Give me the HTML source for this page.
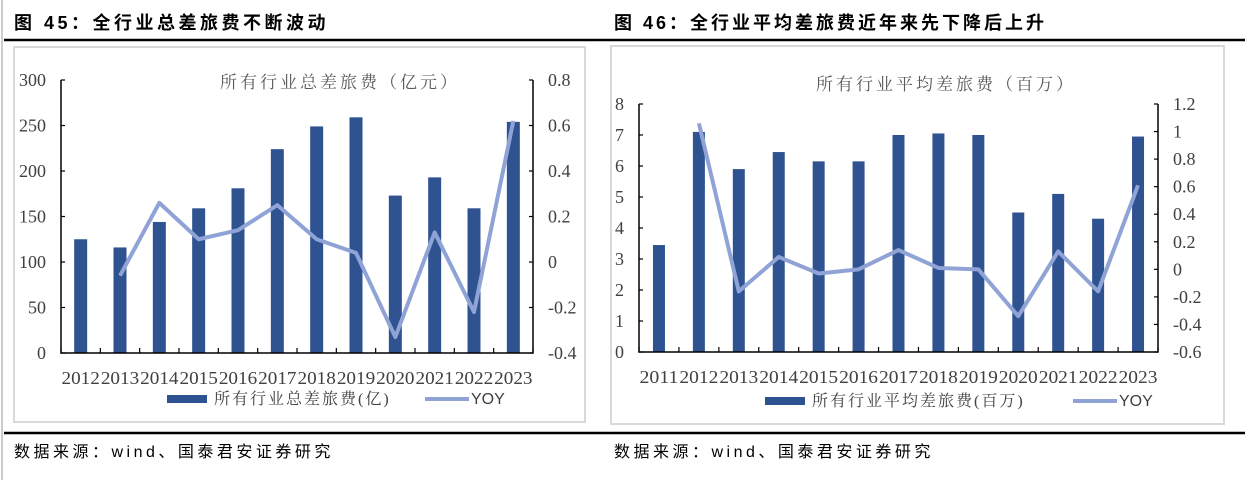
<!DOCTYPE html>
<html><head><meta charset="utf-8"><style>
html,body{margin:0;padding:0;background:#fff;}
svg{display:block;}
.ser{font-family:"Liberation Serif","Noto Serif CJK SC",serif;}
.cjk{font-family:"Liberation Sans","Noto Sans CJK SC",sans-serif;}
</style></head><body>
<svg id="root" width="1245" height="480" viewBox="0 0 1245 480" xmlns="http://www.w3.org/2000/svg">
  <rect x="0" y="0" width="1245" height="480" fill="#fff"/>
  <line x1="2" y1="0" x2="2" y2="480" stroke="#999" stroke-width="1"/>
  <text x="14" y="29" class="cjk" font-size="18" font-weight="bold" fill="#000" letter-spacing="3.5">图 45：全行业总差旅费不断波动</text>
  <text x="614" y="29" class="cjk" font-size="18" font-weight="bold" fill="#000" letter-spacing="3">图 46：全行业平均差旅费近年来先下降后上升</text>
  <line x1="4" y1="40" x2="1245" y2="40" stroke="#000" stroke-width="2.5"/>
  <line x1="4" y1="433" x2="1245" y2="433" stroke="#000" stroke-width="2.5"/>
  <text x="14" y="457" class="cjk" font-size="16" fill="#000" letter-spacing="3.5">数据来源：wind、国泰君安证券研究</text>
  <text x="614" y="457" class="cjk" font-size="16" fill="#000" letter-spacing="3.5">数据来源：wind、国泰君安证券研究</text>
  <rect x="14" y="47" width="571" height="375" fill="#fff" stroke="#d9d9d9" stroke-width="2"/>
  <rect x="611" y="46" width="613" height="378" fill="#fff" stroke="#d9d9d9" stroke-width="2"/>
  <g id="c1"></g>
  <g id="c2"></g>
</svg>
<script>
const cats1 = ['2012','2013','2014','2015','2016','2017','2018','2019','2020','2021','2022','2023'];
const bars1 = [125,116,144,159,181,224,249,259,173,193,159,254];
const yoy1 = [null,-0.06,0.26,0.10,0.14,0.25,0.10,0.04,-0.33,0.13,-0.22,0.62];
const leftTicks1 = [0,50,100,150,200,250,300];
const rightTicks1 = [-0.4,-0.2,0,0.2,0.4,0.6,0.8];

const cats2 = ['2011','2012','2013','2014','2015','2016','2017','2018','2019','2020','2021','2022','2023'];
const bars2 = [3.45,7.1,5.9,6.45,6.15,6.15,7.0,7.05,7.0,4.5,5.1,4.3,6.95];
const yoy2 = [null,1.06,-0.16,0.09,-0.03,0.0,0.14,0.01,0.0,-0.34,0.13,-0.16,0.61];
const leftTicks2 = [0,1,2,3,4,5,6,7,8];
const rightTicks2 = [-0.6,-0.4,-0.2,0,0.2,0.4,0.6,0.8,1,1.2];

const NS='http://www.w3.org/2000/svg';
function mk(tag, attrs, parent){const e=document.createElementNS(NS,tag);for(const k in attrs)e.setAttribute(k,attrs[k]);parent.appendChild(e);return e;}

function draw(g, o){
  const {cats,bars,yoy,lt,rt,x0,x1,y0,y1,title,titleX,titleY,legLabel,legX,yoyX,legY,barW}=o;
  const lmin=lt[0],lmax=lt[lt.length-1],rmin=rt[0],rmax=rt[rt.length-1];
  const n=cats.length, cw=(x1-x0)/n;
  const xc=i=>x0+cw*(i+0.5);
  const yl=v=>y0-(v-lmin)/(lmax-lmin)*(y0-y1);
  const yr=v=>y0-(v-rmin)/(rmax-rmin)*(y0-y1);
  const t=mk('text',{x:titleX,y:titleY,'text-anchor':'middle','font-size':17,fill:'#595959','class':'ser','letter-spacing':'3'},g);
  t.textContent=title;
  
  
  bars.forEach((v,i)=>{
    const r=mk('rect',{x:xc(i)-barW/2,y:yl(v),width:barW,height:y0-yl(v),fill:'#2F5391'},g);
    
    
  });
  const ax=mk('path',{d:`M${x0},${y1} V${y0} H${x1} V${y1}`,fill:'none',stroke:'#000','stroke-width':1.5},g);
  
  
  for(let i=0;i<=n;i++) mk('line',{x1:x0+cw*i,x2:x0+cw*i,y1:y0,y2:y0-5,stroke:'#000','stroke-width':1.2},g);
  lt.forEach(v=>{
    mk('line',{x1:x0,x2:x0+4,y1:yl(v),y2:yl(v),stroke:'#000','stroke-width':1.2},g);
    const tx=mk('text',{x:x0-15,y:yl(v)+6,'text-anchor':'end','font-size':18,fill:'#404040','class':'ser'},g);
    tx.textContent=v;
    
    
  });
  rt.forEach(v=>{
    mk('line',{x1:x1,x2:x1-4,y1:yr(v),y2:yr(v),stroke:'#000','stroke-width':1.2},g);
    const tx=mk('text',{x:x1+15,y:yr(v)+6,'font-size':18,fill:'#404040','class':'ser'},g);
    tx.textContent=String(v);
    
    
  });
  cats.forEach((c,i)=>{
    const tx=mk('text',{x:xc(i),y:y0+31,'text-anchor':'middle','font-size':18,fill:'#404040','class':'ser',textLength:cw-1,lengthAdjust:'spacingAndGlyphs'},g);
    tx.textContent=c;
    
    
  });
  let pts=[];
  yoy.forEach((v,i)=>{if(v!==null)pts.push(xc(i)+','+yr(v));});
  const pl=mk('polyline',{points:pts.join(' '),fill:'none',stroke:'#8FA3D6','stroke-width':4,'stroke-linejoin':'round'},g);
  
  
  const lb=mk('rect',{x:legX,y:legY-9,width:40,height:8,fill:'#2F5391'},g);
  
  
  const lt1=mk('text',{x:legX+47,y:legY,'font-size':16,fill:'#404040','class':'ser','letter-spacing':'2'},g);
  lt1.textContent=legLabel;
  
  
  const ll=mk('line',{x1:yoyX,x2:yoyX+44,y1:legY-5,y2:legY-5,stroke:'#8FA3D6','stroke-width':4},g);
  
  
  const lt2=mk('text',{x:yoyX+46,y:legY,'font-size':16,fill:'#404040','class':'cjk'},g);
  lt2.textContent='YOY';
  
  
}
draw(document.getElementById('c1'),{cats:cats1,bars:bars1,yoy:yoy1,lt:leftTicks1,rt:rightTicks1,x0:61,x1:533,y0:353,y1:80,
  title:'所有行业总差旅费（亿元）',titleX:340,titleY:88,legLabel:'所有行业总差旅费(亿)',legX:167,yoyX:425,legY:404,barW:13});
draw(document.getElementById('c2'),{cats:cats2,bars:bars2,yoy:yoy2,lt:leftTicks2,rt:rightTicks2,x0:639,x1:1158,y0:352,y1:104,
  title:'所有行业平均差旅费（百万）',titleX:946,titleY:90,legLabel:'所有行业平均差旅费(百万)',legX:765,yoyX:1073,legY:406,barW:12});
</script>
</body></html>
